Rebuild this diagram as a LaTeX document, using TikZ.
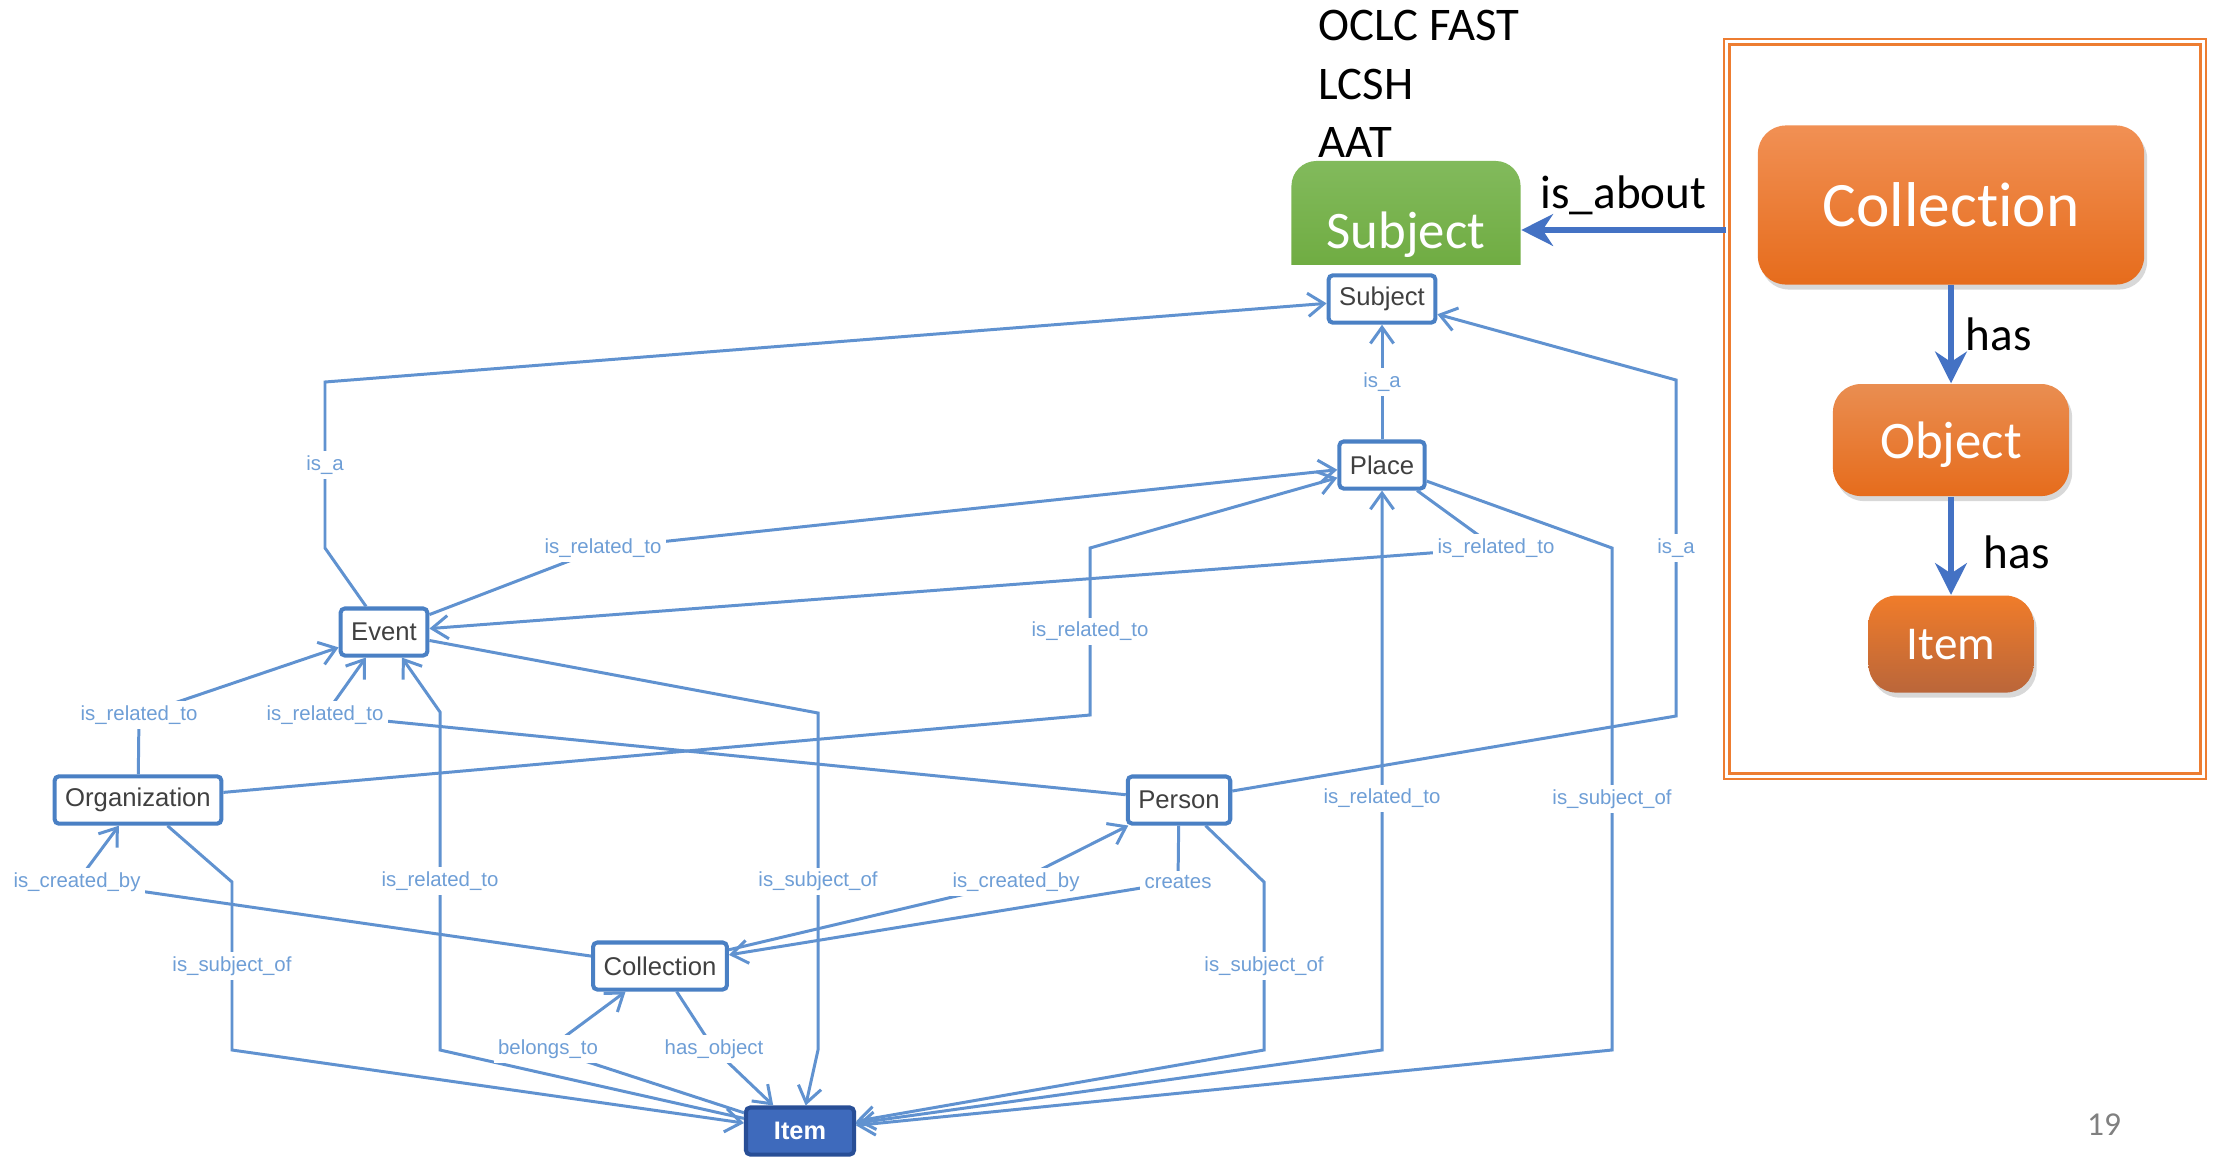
\documentclass[tikz,border=0pt]{standalone}
\usepackage{fontspec}
\setmainfont{Carlito}[Ligatures=NoCommon]
\newfontfamily\diagfont{Liberation Sans}
\usetikzlibrary{arrows.meta,positioning,shadows}

\definecolor{linkblue}{RGB}{96,146,208}
\definecolor{labelblue}{RGB}{110,158,214}
\definecolor{boxblue}{RGB}{74,128,196}
\definecolor{itemblue}{RGB}{62,106,188}
\definecolor{itemedge}{RGB}{40,78,150}
\definecolor{slideblue}{RGB}{68,114,196}
\definecolor{frameorange}{RGB}{237,125,49}
\definecolor{orangetop}{RGB}{241,144,84}
\definecolor{orangebot}{RGB}{230,108,28}
\definecolor{browntop}{RGB}{240,124,42}
\definecolor{brownbot}{RGB}{186,102,58}
\definecolor{greentop}{RGB}{130,186,92}
\definecolor{greenbot}{RGB}{106,168,58}
\definecolor{pagegray}{RGB}{128,128,128}

\tikzset{
  class node/.style={draw=boxblue, line width=1.15pt, rounded corners=1.2pt, fill=white,
    text=black!75, font=\diagfont\fontsize{7.3}{8}\selectfont, inner xsep=3pt,
    minimum height=0.47cm},
  item node/.style={class node, draw=itemedge, fill=itemblue, text=white,
    font=\diagfont\bfseries\fontsize{7.2}{8}\selectfont, minimum width=1.08cm},
  rel/.style={draw=linkblue, line width=0.85pt, -{Straight Barb[length=4.6pt,width=6.6pt]}},
  rel label/.style={fill=white, inner sep=1.2pt, text=labelblue,
    font=\diagfont\fontsize{5.8}{7}\selectfont},
  vocab/.style={anchor=west, inner sep=0pt, font=\fontsize{13.3}{16}\selectfont},
  slide text/.style={font=\fontsize{13.4}{16}\selectfont},
  slide box/.style={rounded corners=0.28cm, top color=orangetop, bottom color=orangebot,
    text=white, text depth=0pt,
    drop shadow={shadow xshift=0.03cm, shadow yshift=-0.05cm, opacity=0.3}},
  subject box/.style={rounded corners=0.25cm, top color=greentop, bottom color=greenbot,
    text=white, text depth=0pt, minimum width=2.29cm, minimum height=1.38cm,
    font=\fontsize{15}{18}\selectfont},
  frame box/.style={draw=frameorange, line width=0.7pt, double=white, double distance=0.9pt,
    minimum width=4.76cm, minimum height=7.34cm},
  slide arrow/.style={draw=slideblue, line width=1.7pt, -{Stealth[length=9pt,width=9pt]}}
}

\begin{document}
\begin{tikzpicture}[x=0.01cm, y=-0.01cm]
\path[use as bounding box, fill=white] (0,0) rectangle (2215,1157);

% classes of the data model
\node[class node] (sub) at (1382,299) {Subject};
\node[class node] (pl) at (1382,465) {Place};
\node[class node] (ev) at (384,632) {Event};
\node[class node] (org) at (138,800) {Organization};
\node[class node] (per) at (1179,800) {Person};
\node[class node] (col) at (660,966) {Collection};
\node[item node] (itm) at (800,1131) {Item};

% relations between the classes
\draw[rel] (pl) -- node[rel label] {is\_a} (sub);
\draw[rel] (ev) -- (325,548) -- node[rel label] {is\_a} (325,382) -- (sub);
\draw[rel] (per) -- (1676,716) -- node[rel label] {is\_a} (1676,380) -- (sub);
\draw[rel] (ev) -- (603,548) node[rel label] {is\_related\_to} -- (pl);
\draw[rel] (pl) -- (1496,548) node[rel label] {is\_related\_to} -- (ev);
\draw[rel] (org) -- (1090,715) -- node[rel label] {is\_related\_to} (1090,548) -- (pl);
\draw[rel] (org) -- (139,715) node[rel label] {is\_related\_to} -- (ev);
\draw[rel] (per) -- (325,715) node[rel label] {is\_related\_to} -- (ev);
\draw[rel] (itm) -- (440,1050) -- node[rel label] {is\_related\_to} (440,712) -- (ev);
\draw[rel] (itm) -- (1382,1050) -- node[rel label, pos=0.45] {is\_related\_to} (pl);
\draw[rel] (ev) -- (818,713) -- node[rel label] {is\_subject\_of} (818,1050) -- (itm);
\draw[rel] (org) -- (232,882) -- node[rel label] {is\_subject\_of} (232,1050) -- (itm);
\draw[rel] (per) -- (1264,882) -- node[rel label] {is\_subject\_of} (1264,1050) -- (itm);
\draw[rel] (pl) -- (1612,548) -- node[rel label] {is\_subject\_of} (1612,1050) -- (itm);
\draw[rel] (col) -- (77,882) node[rel label] {is\_created\_by} -- (org);
\draw[rel] (col) -- (1016,882) node[rel label] {is\_created\_by} -- (per);
\draw[rel] (per) -- (1178,882) node[rel label] {creates} -- (col);
\draw[rel] (itm) -- (548,1049) node[rel label] {belongs\_to} -- (col);
\draw[rel] (col) -- (714,1049) node[rel label] {has\_object} -- (itm);

% subject vocabularies
\node[vocab] (fast) at (1318,25) {OCLC FAST};
\node[vocab, below=0.27cm of fast.south west, anchor=north west] (lcsh) {LCSH};
\node[vocab, below=0.27cm of lcsh.south west, anchor=north west] (aat) {AAT};

% lower part of the green box is hidden
\begin{scope}
  \clip (1250,100) rectangle (1600,264);
  \node[subject box] (gsub) at (1406,230) {Subject};
\end{scope}

% collection / object / item hierarchy
\node[frame box] (frame) at (1965,409) {};
\node[slide box, minimum width=3.86cm, minimum height=1.59cm,
      font=\fontsize{18}{21}\selectfont] (ocol) at (1951,205) {Collection};
\node[slide box, minimum width=2.36cm, minimum height=1.12cm, top color=orangetop!85!brown,
      font=\fontsize{15}{18}\selectfont, below=0.98cm of ocol] (oobj) {Object};
\node[slide box, minimum width=1.65cm, minimum height=0.97cm, top color=browntop,
      bottom color=brownbot, font=\fontsize{13.4}{16}\selectfont, below=0.98cm of oobj] (oitm) {Item};

\draw[slide arrow] (frame.west |- gsub.east) -- node[above, slide text] {is\_about} (gsub.east);
\path (ocol) edge[slide arrow] node[right, slide text] {has} (oobj)
      (oobj) edge[slide arrow] node[right=0.18cm, pos=0.57, slide text] {has} (oitm);

\node[text=pagegray, font=\fontsize{9.5}{11}\selectfont] (pagenum) at (2104,1125) {19};
\end{tikzpicture}
\end{document}
